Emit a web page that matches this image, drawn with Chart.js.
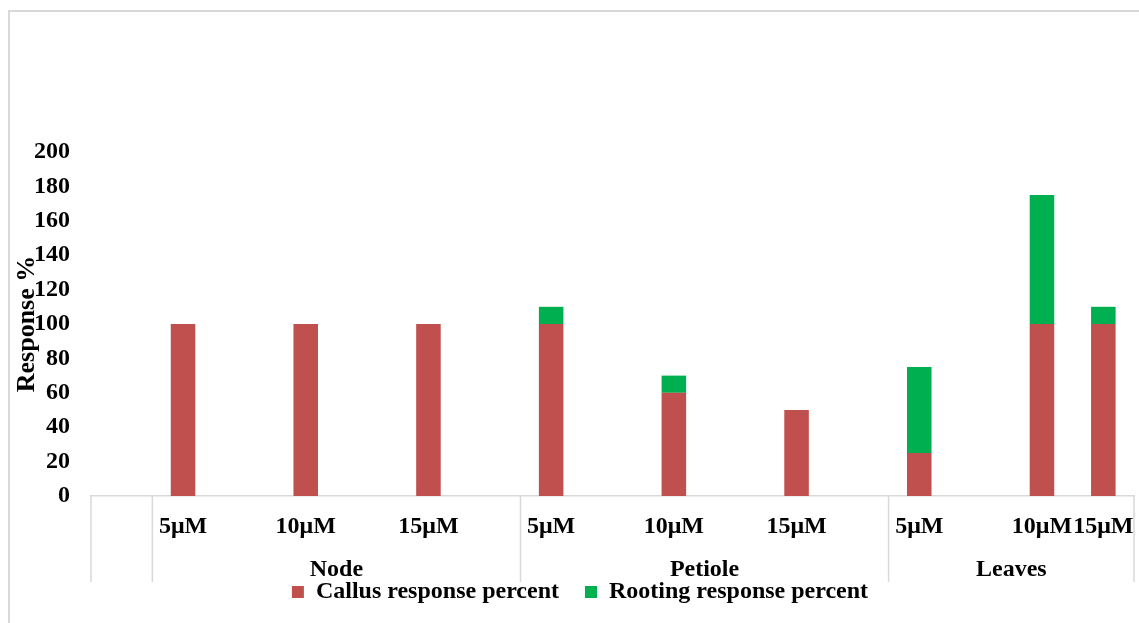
<!DOCTYPE html>
<html>
<head>
<meta charset="utf-8">
<title>Response %</title>
<script src="https://cdn.jsdelivr.net/npm/chart.js@4.4.0/dist/chart.umd.min.js"></script>
<style>
  html, body { margin: 0; padding: 0; background: #fff; overflow: hidden; }
  #frame {
    position: absolute; left: 8px; top: 10px;
    width: 1146px; height: 620px;
    border: 2px solid #d9d9d9;
  }
  #responseChart { display: block; }
</style>
</head>
<body>
<div id="frame"><canvas id="responseChart" width="1146" height="620"></canvas></div>
<script>
// concentration per slot; empty slots keep the Excel-style spacing
const concentrations = ['', '5μM', '', '10μM', '', '15μM', '', '5μM', '', '10μM', '', '15μM', '', '5μM', '', '10μM', '15μM'];
const explants = ['', 'Node', 'Petiole', 'Leaves'];
const explantSpans = [1, 6, 6, 4];

const callusPercent  = [null, 100, null, 100, null, 100, null, 100, null, 60, null, 50, null, 25, null, 100, 100];
const rootingPercent = [null, null, null, null, null, null, null, 10, null, 10, null, null, null, 50, null, 75, 10];

const yMin = 0, yMax = 200, yStep = 20;

const SERIF = '"Liberation Serif", "Times New Roman", serif';
const LINE = '#d9d9d9';

// two-row category axis: concentrations on top, explant groups below
const explantAxis = {
    id: 'explantAxis',
    afterDraw(chart) {
        const {ctx, chartArea, scales: {x}} = chart;
        const base = chartArea.bottom;
        ctx.save();
        ctx.font = 'bold 24px ' + SERIF;
        ctx.fillStyle = '#000';
        ctx.textAlign = 'center';
        ctx.textBaseline = 'alphabetic';

        concentrations.forEach((label, i) => {
            if (label) ctx.fillText(label, x.getPixelForValue(i), base + 37);
        });

        ctx.strokeStyle = LINE;
        ctx.lineWidth = 1.5;
        let start = 0;
        const edges = [x.getPixelForValue(-0.5)];
        explants.forEach((name, g) => {
            const end = start + explantSpans[g];
            const left = x.getPixelForValue(start - 0.5);
            const right = x.getPixelForValue(end - 0.5);
            edges.push(right);
            if (name) ctx.fillText(name, (left + right) / 2, base + 80);
            start = end;
        });
        edges.forEach(px => {
            ctx.beginPath();
            ctx.moveTo(px, base);
            ctx.lineTo(px, base + 86);
            ctx.stroke();
        });
        ctx.restore();
    }
};

new Chart(document.getElementById('responseChart'), {
    type: 'bar',
    data: {
        labels: concentrations,
        datasets: [{
            label: 'Callus response percent',
            data: callusPercent,
            backgroundColor: '#C0504D',
        }, {
            label: 'Rooting response percent',
            data: rootingPercent,
            backgroundColor: '#00B050',
        }]
    },
    options: {
        responsive: false,
        animation: false,
        categoryPercentage: 0.5,
        barPercentage: 0.8,
        layout: { padding: { top: 140, left: 16, right: 22, bottom: 18 } },
        scales: {
            x: {
                stacked: true,
                grid: { display: false },
                border: { display: true, color: LINE, width: 1.5 },
                ticks: { display: false },
                afterFit(scale) { scale.height = 58; }
            },
            y: {
                stacked: true,
                min: yMin,
                max: yMax,
                grid: { display: false, drawTicks: false },
                border: { display: false },
                ticks: {
                    stepSize: yStep,
                    padding: 21,
                    color: '#000',
                    font: { family: SERIF, size: 24, weight: 'bold' }
                },
                title: {
                    display: true,
                    text: 'Response %',
                    color: '#000',
                    padding: { top: -14, bottom: 0 },
                    font: { family: SERIF, size: 26, weight: 'bold' }
                },
                afterFit(scale) { scale.width = 65; }
            }
        },
        plugins: {
            legend: {
                position: 'bottom',
                labels: {
                    boxWidth: 12,
                    boxHeight: 12,
                    padding: 26,
                    color: '#000',
                    font: { family: SERIF, size: 24, weight: 'bold' }
                }
            },
            tooltip: { enabled: false }
        }
    },
    plugins: [explantAxis]
});
</script>
</body>
</html>
